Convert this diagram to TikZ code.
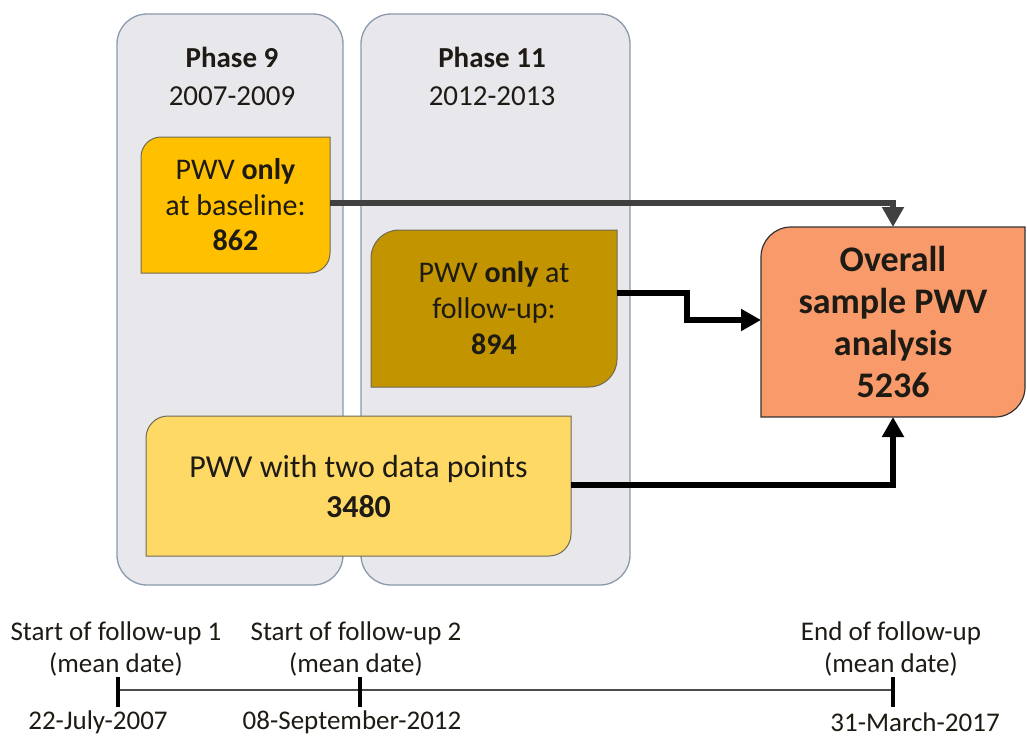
\documentclass[tikz,border=0pt]{standalone}
\usepackage{fontspec}
\setmainfont{Carlito}
\usetikzlibrary{arrows.meta}

\definecolor{panelfill}{HTML}{E8E8EC}
\definecolor{paneledge}{HTML}{8A9AAE}
\definecolor{gold}{HTML}{FFC000}
\definecolor{darkgold}{HTML}{C29400}
\definecolor{lightgold}{HTML}{FFD966}
\definecolor{salmon}{HTML}{F89A6A}
\definecolor{ink}{HTML}{1E1A14}
\definecolor{greyline}{HTML}{404040}
\definecolor{boxedge}{HTML}{6F6A55}

% box with rounded top-left and bottom-right corners: left, top, right, bottom, radius, style
\newcommand\dgbox[6]{%
  \draw[#6] (#1,#4) -- (#1,{#2+#5})
    .. controls (#1,{#2+0.448*#5}) and ({#1+0.448*#5},#2) .. ({#1+#5},#2)
    -- (#3,#2) -- (#3,{#4-#5})
    .. controls (#3,{#4-0.448*#5}) and ({#3-0.448*#5},#4) .. ({#3-#5},#4)
    -- cycle;}

\tikzset{
  panel/.style={draw=paneledge, line width=1.3pt, fill=panelfill,
    rounded corners=30pt, inner sep=0pt, outer sep=0pt},
  header/.style={align=center, text=ink, inner sep=0pt,
    font=\fontsize{29}{38}\selectfont},
  boxtext/.style={align=center, text=ink, inner sep=0pt, outer sep=0pt},
  boxline/.style={draw=boxedge, line width=1pt},
  greyarrow/.style={draw=greyline, line width=6.5pt,
    -{Triangle[width=21pt,length=20pt]}},
  blackarrow/.style={draw=black, line width=6.5pt,
    -{Triangle[width=21pt,length=20pt]}},
  axis/.style={draw=black!70, line width=2pt},
  tick/.style={draw=black, line width=4pt},
  timelabel/.style={align=center, text=ink, inner sep=0pt,
    font=\fontsize{27}{32}\selectfont}
}

\begin{document}
\begin{tikzpicture}[x=1pt, y=-1pt]
\useasboundingbox (0,0) rectangle (1027,737);

% study phases
\node[panel, minimum width=226pt, minimum height=571pt] (p9) at (230,299.5) {};
\node[panel, minimum width=269pt, minimum height=571pt] (p11) at (495.5,299.5) {};
\node[header] (h9) at (232,76) {\textbf{Phase 9}\\2007-2009};
\node[header] (h11) at (492,76) {\textbf{Phase 11}\\2012-2013};

% sample groups
\dgbox{141}{137}{330}{273}{20}{boxline, fill=gold}
\node[boxtext, minimum width=189pt, minimum height=136pt,
  font=\fontsize{30}{35.5}\selectfont] (b862) at (235.5,205)
  {PWV \textbf{only}\\at baseline:\\\textbf{862}};

\dgbox{371}{230}{617}{387}{28}{boxline, fill=darkgold}
\node[boxtext, minimum width=246pt, minimum height=157pt,
  font=\fontsize{30}{36}\selectfont] (b894) at (494,308.5)
  {PWV \textbf{only} at\\follow-up:\\\textbf{894}};

\dgbox{146}{416}{571}{556}{22}{boxline, fill=lightgold}
\node[boxtext, minimum width=425pt, minimum height=140pt,
  font=\fontsize{32}{40}\selectfont] (b3480) at (358.5,486)
  {PWV with two data points\\\textbf{3480}};

\dgbox{761}{227}{1025}{417}{30}{draw=black!80, line width=1.2pt, fill=salmon}
\node[boxtext, minimum width=264pt, minimum height=190pt,
  font=\fontsize{36}{42}\selectfont\bfseries] (ov) at (893,322)
  {Overall\\sample PWV\\analysis\\5236};

% flows into the overall sample
\draw[greyarrow] ([yshift=2pt]b862.east) -| (ov.north);
\draw[blackarrow] ([yshift=15.5pt]b894.east) -- ++(70,0) |- ([yshift=2pt]ov.west);
\draw[blackarrow] ([yshift=1pt]b3480.east) -| (ov.south);

% follow-up timeline
\coordinate (t1) at (118,690);
\coordinate (t2) at (360,690);
\coordinate (t3) at (893,690);
\draw[axis] (t1) -- (t3);
\foreach \t in {t1,t2,t3}
  \draw[tick] ([yshift=13pt]\t) -- ([yshift=-17pt]\t);

\node[timelabel] (l1) at (116,649) {Start of follow-up 1\\(mean date)};
\node[timelabel] (l2) at (356,649) {Start of follow-up 2\\(mean date)};
\node[timelabel] (l3) at (891,649) {End of follow-up\\(mean date)};
\node[timelabel] (d1) at (98,722) {22-July-2007};
\node[timelabel] (d2) at (352,722) {08-September-2012};
\node[timelabel] (d3) at (915,722) {31-March-2017};
\end{tikzpicture}
\end{document}
